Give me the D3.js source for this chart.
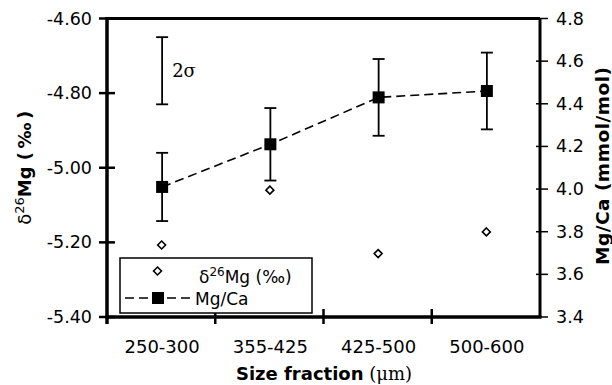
<!DOCTYPE html>
<html>
<head>
<meta charset="utf-8">
<script src="https://cdn.jsdelivr.net/npm/d3@7/dist/d3.min.js"></script>
<style>
  body { margin: 0; background: #fff; }
  svg { font-family: "DejaVu Sans", Verdana, sans-serif; }
</style>
</head>
<body>
<svg id="chart" width="612" height="385"></svg>
<script>
// data
var fractions = ['250-300', '355-425', '425-500', '500-600'];
var d26Mg = [-5.207, -5.060, -5.230, -5.172];
var mgca = [4.01, 4.21, 4.43, 4.46];
var mgcaErr = [0.16, 0.17, 0.18, 0.18];
var leftTicks = [-4.6, -4.8, -5.0, -5.2, -5.4];
var rightTicks = [3.4, 3.6, 3.8, 4.0, 4.2, 4.4, 4.6, 4.8];
var sigma = {center: -4.74, half: 0.09};

var svg = d3.select('#chart');
var x0 = 107, x1 = 540, y0 = 18.5, y1 = 317;

var x = d3.scaleBand().domain(fractions).range([x0, x1]);
var yL = d3.scaleLinear().domain([-5.4, -4.6]).range([y1, y0]);
var yR = d3.scaleLinear().domain([3.4, 4.8]).range([y1, y0]);

// frame lines
svg.append('line').attr('x1', x0).attr('x2', x1).attr('y1', y0).attr('y2', y0)
    .style('stroke', '#000').style('stroke-width', 3);
svg.append('line').attr('x1', x1).attr('x2', x1).attr('y1', y0).attr('y2', y1)
    .style('stroke', '#000').style('stroke-width', 3);
svg.append('line').attr('x1', x0 - 1.5).attr('x2', x1 + 1.5).attr('y1', y1).attr('y2', y1)
    .style('stroke', '#000').style('stroke-width', 3.5);
svg.append('line').attr('x1', x0).attr('x2', x0).attr('y1', y0 - 1.5).attr('y2', y1 + 7)
    .style('stroke', '#000').style('stroke-width', 3.5);

// left ticks
svg.selectAll('.ltick').data(leftTicks).enter().append('line')
    .attr('class', 'ltick')
    .attr('x1', x0 - 8).attr('x2', x0 + 8)
    .attr('y1', function(d){ return yL(d); }).attr('y2', function(d){ return yL(d); })
    .style('stroke', '#000').style('stroke-width', 2.5);
svg.selectAll('.llab').data(leftTicks).enter().append('text')
    .attr('class', 'llab')
    .attr('x', 92).attr('y', function(d){ return yL(d) + 6; })
    .attr('text-anchor', 'end')
    .style('font-size', '17.5px')
    .text(function(d){ return d3.format('.2f')(d).replace('−', '-'); });

// right ticks
svg.selectAll('.rtick').data(rightTicks).enter().append('line')
    .attr('class', 'rtick')
    .attr('x1', x1 - 4).attr('x2', x1 + 8)
    .attr('y1', function(d){ return yR(d); }).attr('y2', function(d){ return yR(d); })
    .style('stroke', '#000').style('stroke-width', 1.5);
svg.selectAll('.rlab').data(rightTicks).enter().append('text')
    .attr('class', 'rlab')
    .attr('x', 556).attr('y', function(d){ return yR(d) + 6; })
    .style('font-size', '17.5px')
    .text(function(d){ return d3.format('.1f')(d); });

// bottom ticks at band edges
var edges = fractions.slice(1).map(function(f){ return x(f); });
svg.selectAll('.btick').data(edges).enter().append('line')
    .attr('class', 'btick')
    .attr('x1', function(d){ return d; }).attr('x2', function(d){ return d; })
    .attr('y1', y1 - 8).attr('y2', y1 + 7)
    .style('stroke', '#000').style('stroke-width', 2.5);
svg.selectAll('.blab').data(fractions).enter().append('text')
    .attr('class', 'blab')
    .attr('x', function(d){ return x(d) + x.bandwidth() / 2 + 1; })
    .attr('y', 353)
    .attr('text-anchor', 'middle')
    .style('font-size', '18px')
    .text(function(d){ return d; });

// axis titles
var xt = svg.append('text').attr('x', 324).attr('y', 380).attr('text-anchor', 'middle')
    .style('font-size', '18px');
xt.append('tspan').style('font-weight', 'bold').text('Size fraction');
xt.append('tspan').style('font-family', '"DejaVu Serif", serif').text(' (\u03bcm)');

var lt = svg.append('text')
    .attr('transform', 'translate(31,' + ((y0 + y1) / 2) + ') rotate(-90)')
    .attr('text-anchor', 'middle')
    .style('font-size', '18px');
lt.append('tspan').text('\u03b4');
lt.append('tspan').attr('dy', -7).style('font-size', '13px').text('26');
lt.append('tspan').attr('dy', 7).style('font-weight', 'bold').text('Mg (\u2009\u2030\u2009)');

svg.append('text')
    .attr('transform', 'translate(609,' + ((y0 + y1) / 2 - 2) + ') rotate(-90)')
    .attr('text-anchor', 'middle')
    .style('font-size', '18.5px').style('font-weight', 'bold')
    .style('letter-spacing', '0.5px')
    .text('Mg/Ca (mmol/mol)');

// 2 sigma bar
var sx = x(fractions[0]) + x.bandwidth() / 2 + 1;
var sg = svg.append('g').style('stroke', '#000').style('stroke-width', 1.8);
sg.append('line').attr('x1', sx).attr('x2', sx)
    .attr('y1', yL(sigma.center + sigma.half)).attr('y2', yL(sigma.center - sigma.half));
[sigma.center + sigma.half, sigma.center - sigma.half].forEach(function(v){
    sg.append('line').attr('x1', sx - 6).attr('x2', sx + 6).attr('y1', yL(v)).attr('y2', yL(v));
});
svg.append('text').attr('x', sx + 10).attr('y', yL(sigma.center) + 6)
    .style('font-family', '"DejaVu Serif", serif').style('font-size', '18px')
    .text('2\u03c3');

// Mg/Ca error bars
var pts = fractions.map(function(f, i){
    return {f: f, v: mgca[i], e: mgcaErr[i], d: d26Mg[i]};
});
var cx = function(d){ return x(d.f) + x.bandwidth() / 2 + 1; };
var eb = svg.selectAll('.err').data(pts).enter().append('g').attr('class', 'err')
    .style('stroke', '#000').style('stroke-width', 1.8);
eb.append('line').attr('x1', cx).attr('x2', cx)
    .attr('y1', function(d){ return yR(d.v + d.e); }).attr('y2', function(d){ return yR(d.v - d.e); });
eb.append('line').attr('x1', function(d){ return cx(d) - 6; }).attr('x2', function(d){ return cx(d) + 6; })
    .attr('y1', function(d){ return yR(d.v + d.e); }).attr('y2', function(d){ return yR(d.v + d.e); });
eb.append('line').attr('x1', function(d){ return cx(d) - 6; }).attr('x2', function(d){ return cx(d) + 6; })
    .attr('y1', function(d){ return yR(d.v - d.e); }).attr('y2', function(d){ return yR(d.v - d.e); });

// dashed Mg/Ca line
var line = d3.line().x(cx).y(function(d){ return yR(d.v); });
svg.append('path').datum(pts).attr('d', line)
    .style('fill', 'none').style('stroke', '#000').style('stroke-width', 1.6)
    .style('stroke-dasharray', '9,5');

svg.selectAll('.sq').data(pts).enter().append('rect').attr('class', 'sq')
    .attr('x', function(d){ return cx(d) - 6; }).attr('y', function(d){ return yR(d.v) - 6; })
    .attr('width', 12).attr('height', 12).style('fill', '#000');

// d26Mg diamonds
var diamond = d3.symbol().type(d3.symbolDiamond2).size(40);
svg.selectAll('.dia').data(pts).enter().append('path').attr('class', 'dia')
    .attr('d', diamond)
    .attr('transform', function(d){ return 'translate(' + (cx(d) - 0.5) + ',' + yL(d.d) + ')'; })
    .style('fill', '#fff').style('stroke', '#000').style('stroke-width', 1.6);

// legend
var lg = svg.append('g');
lg.append('rect').attr('x', 120).attr('y', 258).attr('width', 192).attr('height', 55)
    .style('fill', '#fff').style('stroke', '#000').style('stroke-width', 1.5);
lg.append('path').attr('d', diamond).attr('transform', 'translate(157.5,271)')
    .style('fill', '#fff').style('stroke', '#000').style('stroke-width', 1.6);
var l1 = lg.append('text').attr('x', 199).attr('y', 283).style('font-size', '17px');
l1.append('tspan').text('\u03b4');
l1.append('tspan').attr('dy', -7).style('font-size', '12px').text('26');
l1.append('tspan').attr('dy', 7).text('Mg  (\u2030)');
lg.append('line').attr('x1', 125).attr('x2', 191).attr('y1', 298).attr('y2', 298)
    .style('stroke', '#000').style('stroke-width', 1.6).style('stroke-dasharray', '9,5');
lg.append('rect').attr('x', 152).attr('y', 292).attr('width', 12).attr('height', 12).style('fill', '#000');
lg.append('text').attr('x', 195).attr('y', 305).style('font-size', '17px').text('Mg/Ca');
</script>
</body>
</html>
